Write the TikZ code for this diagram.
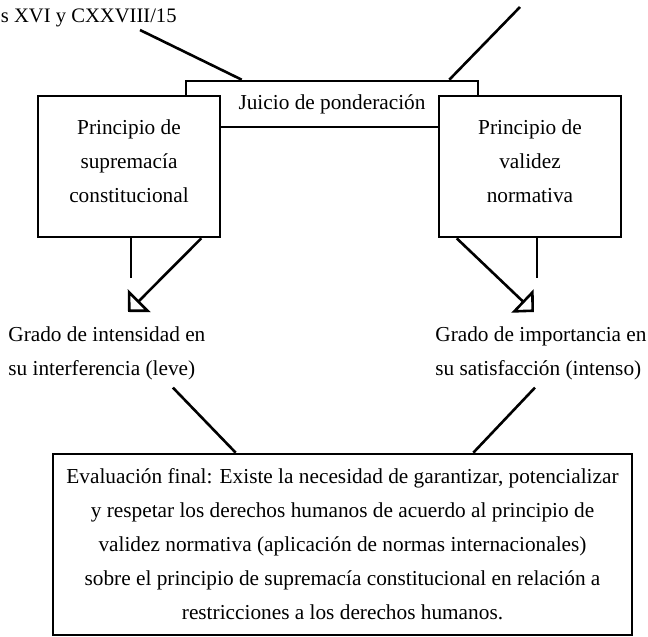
\documentclass[tikz,border=0pt]{standalone}
\usepackage{fontspec}
\setmainfont{Liberation Serif}
\usetikzlibrary{arrows.meta}

\begin{document}
\begin{tikzpicture}[x=0.5pt,y=0.5pt,yscale=-1,xscale=1,
  every node/.style={font=\fontsize{10.65pt}{17pt}\selectfont},
  caja/.style={draw,line width=1.3pt,fill=white,align=center,inner sep=0pt},
  texto/.style={anchor=north west,inner sep=0pt,align=left},
  linea/.style={line width=1.3pt},
  flecha/.style={line width=1.3pt,-{Triangle[open,length=8pt,width=16pt]}}]
\useasboundingbox (0,0) rectangle (648,637);
%uncomment if require: \path (0,637); %set diagram left start at 0, and has height of 637
%Shape: Rectangle
\node [caja,fill=none,minimum width=146pt,minimum height=23pt] (juicio) at (332,104) {Juicio de ponderación};
%Shape: Rectangle
\node [caja,minimum width=91pt,minimum height=70.5pt] (supremacia) at (129,166.5) {Principio de\\supremacía\\constitucional\strut};
%Shape: Rectangle
\node [caja,minimum width=91pt,minimum height=70.5pt] (validez) at (530,166.5) {Principio de\\validez\\normativa\strut};
%Shape: Rectangle
\node [caja,minimum width=289.5pt,minimum height=90.5pt] (evaluacion) at (342.5,544.5) {Evaluación final: Existe la necesidad de garantizar, potencializar\\y respetar los derechos humanos de acuerdo al principio de\\validez normativa (aplicación de normas internacionales)\\sobre el principio de supremacía constitucional en relación a\\restricciones a los derechos humanos.};

\node [anchor=base east,inner sep=0pt,font=\fontsize{10.3pt}{12pt}\selectfont] (leyes) at (177,22) {s XVI y CXXVIII/15};
\node [texto] (gradoL) at (8,326.5) {Grado de intensidad en\\su interferencia (leve)};
\node [texto] (gradoR) at (435,326.5) {Grado de importancia en\\su satisfacción (intenso)};

\coordinate (cimaL) at (140,30);
\coordinate (cimaR) at (520,7);
\coordinate (puntaL) at (128,312);
\coordinate (puntaR) at (534,312);

%Straight Lines
\draw [linea] (cimaL) -- ([xshift=28.5pt]juicio.north west);
\draw [linea] (cimaR) -- ([xshift=-15pt]juicio.north east);
%Straight Lines
\draw [linea] ([xshift=1pt]supremacia.south) -- ++(0,40);
\draw [flecha] ([xshift=-10pt]supremacia.south east) -- (puntaL);
\draw [linea] ([xshift=3.5pt]validez.south) -- ++(0,40);
\draw [flecha] ([xshift=9.5pt]validez.south west) -- (puntaR);
%Straight Lines
\draw [linea] ([xshift=33pt,yshift=3.5pt]gradoL.south) -- ([xshift=92pt]evaluacion.north west);
\draw [linea] ([xshift=-3pt,yshift=3.5pt]gradoR.south) -- ([xshift=-80pt]evaluacion.north east);
\end{tikzpicture}
\end{document}
